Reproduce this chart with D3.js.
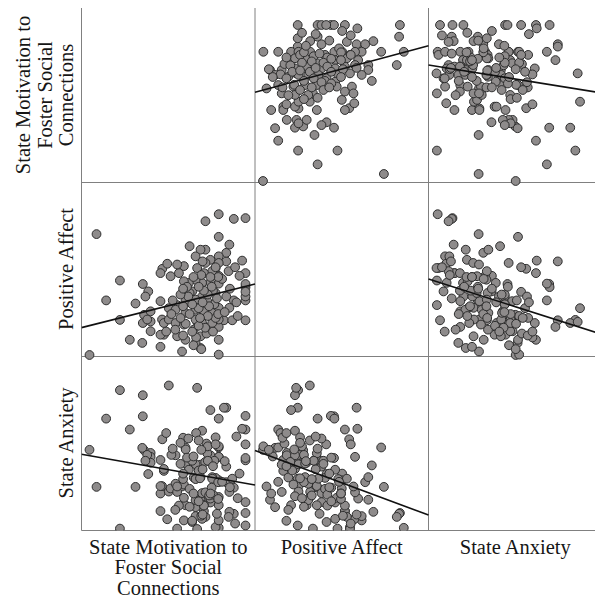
<!DOCTYPE html>
<html>
<head>
<meta charset="utf-8">
<script src="https://cdn.jsdelivr.net/npm/d3@7"></script>
<style>
  html, body { margin: 0; padding: 0; background: #fff; }
  svg { display: block; }
</style>
</head>
<body>
<svg id="chart" width="595" height="600"></svg>
<script>
// Variable names, one entry per row / column of the matrix
const labelLines = [
  ["State Motivation to", "Foster Social", "Connections"],
  ["Positive Affect"],
  ["State Anxiety"]
];

// One value per participant, same order in every array
const motivation = [
  1.00, 1.27, 5.97, 4.05, 2.17, 2.17, 1.64, 3.05, 3.05, 3.10, 3.03, 2.77, 2.55, 5.14, 6.26, 6.17, 5.65, 5.85, 4.37, 4.63,
  5.97, 7.00, 6.55, 5.46, 6.26, 5.46, 6.38, 4.85, 5.27, 5.97, 3.80, 7.00, 7.00, 7.00, 7.00, 7.00, 7.00, 7.00, 6.87, 6.77,
  6.55, 6.49, 6.38, 6.26, 5.97, 5.97, 5.97, 5.97, 5.97, 5.97, 5.97, 5.97, 4.56, 5.27, 3.73, 5.08, 3.35, 3.35, 3.35, 3.26,
  3.22, 3.15, 3.86, 3.73, 3.79, 3.73, 3.73, 3.86, 4.05, 3.99, 4.12, 5.85, 5.65, 5.72, 5.72, 5.53, 5.65, 5.72, 5.65, 5.27,
  5.33, 5.40, 5.33, 5.33, 5.40, 5.46, 5.01, 5.08, 5.08, 5.08, 4.95, 5.08, 5.14, 5.08, 4.69, 4.63, 4.69, 4.69, 4.85, 4.82,
  4.44, 4.37, 4.31, 4.31, 4.63, 4.37, 5.50, 5.45, 5.85, 5.95, 5.80, 5.90, 5.75, 6.10, 6.35, 5.10, 5.20, 5.55, 5.60, 5.55,
  5.70, 5.95, 5.85, 4.95, 5.25, 5.20, 5.35, 5.40, 5.65, 4.60, 4.70, 4.85, 4.95, 4.80, 5.20, 5.30, 5.35, 4.30, 4.50, 4.60,
  4.50, 4.75, 5.00, 3.95, 4.15, 4.20, 4.60, 5.00, 5.30, 6.20, 6.40, 6.60, 5.75, 6.65, 6.70
];
const positiveAffect = [
  1.00, 4.10, 4.61, 2.20, 1.90, 2.91, 2.40, 1.82, 2.82, 2.03, 1.31, 2.32, 1.39, 1.85, 3.40, 1.89, 1.72, 3.23, 2.28, 3.28,
  4.03, 4.51, 4.49, 4.43, 3.62, 3.70, 3.83, 3.79, 3.70, 3.53, 3.21, 3.10, 1.89, 2.40, 2.50, 2.74, 2.82, 2.62, 3.42, 3.03,
  2.40, 1.89, 2.21, 2.50, 1.01, 1.39, 1.72, 1.91, 2.21, 2.83, 3.03, 3.36, 1.09, 1.18, 1.21, 1.31, 1.61, 1.86, 2.12, 2.63,
  1.91, 2.50, 1.52, 1.52, 1.91, 2.38, 3.10, 1.82, 1.91, 3.34, 3.02, 2.59, 1.61, 1.82, 2.08, 2.38, 2.85, 3.15, 3.44, 1.48,
  1.82, 2.12, 2.50, 2.85, 3.10, 3.36, 1.65, 1.91, 2.16, 2.42, 2.63, 2.93, 3.23, 3.53, 1.39, 1.78, 2.08, 2.38, 2.59, 2.85,
  3.10, 1.48, 1.82, 2.16, 2.89, 3.32, 1.55, 1.70, 1.95, 2.05, 2.30, 2.45, 2.65, 2.95, 3.15, 1.45, 1.75, 2.00, 2.25, 2.55,
  2.75, 3.00, 3.25, 1.60, 1.95, 2.20, 2.35, 2.65, 3.00, 1.50, 1.80, 2.05, 2.30, 2.50, 2.75, 3.05, 3.40, 1.65, 1.95, 2.25,
  2.55, 2.75, 3.00, 1.60, 2.05, 2.40, 2.70, 1.25, 1.15, 2.10, 2.70, 3.25, 1.60, 2.35, 2.00
];
const anxiety = [
  3.03, 2.08, 1.03, 4.68, 4.56, 1.01, 3.83, 4.43, 3.89, 3.02, 3.08, 2.08, 3.55, 4.62, 4.11, 4.11, 4.05, 1.05, 1.01, 1.22,
  3.09, 1.41, 1.39, 1.31, 2.20, 1.75, 1.44, 2.63, 2.33, 1.22, 3.30, 3.55, 1.09, 2.76, 1.69, 3.90, 2.82, 3.17, 3.57, 2.42,
  2.06, 2.29, 1.95, 2.60, 3.12, 2.21, 1.61, 2.85, 1.82, 3.83, 2.25, 2.85, 2.09, 1.75, 1.91, 1.56, 2.95, 2.85, 2.70, 2.41,
  2.90, 2.75, 2.49, 2.77, 2.10, 2.10, 1.46, 2.54, 1.96, 1.25, 2.04, 2.31, 2.89, 1.84, 2.33, 2.94, 1.68, 2.29, 1.78, 2.65,
  3.52, 1.61, 1.92, 1.26, 1.46, 1.94, 2.32, 2.66, 1.74, 2.29, 1.18, 2.28, 1.00, 1.33, 3.09, 2.14, 2.68, 1.61, 2.03, 2.52,
  1.60, 1.95, 2.89, 2.16, 1.80, 2.09, 3.19, 2.72, 3.35, 2.20, 2.75, 1.39, 1.88, 2.21, 1.31, 3.46, 2.50, 3.12, 1.86, 2.75,
  2.06, 1.77, 3.17, 1.21, 2.30, 3.27, 2.53, 1.60, 1.91, 3.34, 3.04, 1.57, 2.75, 3.32, 1.71, 1.34, 1.37, 1.49, 3.21, 2.28,
  2.67, 2.83, 1.91, 3.46, 2.90, 3.06, 2.42, 2.86, 3.03, 2.74, 2.07, 1.14, 2.61, 3.37, 1.79
];

// Scale limits of each variable (matrix order)
const domains = [[1, 7], [1, 5], [1, 5]];

const series = [motivation, positiveAffect, anxiety];
const n = d3.min(series, s => s.length);
const rows = d3.range(n).map(i => series.map(s => s[i]));

const svg = d3.select("#chart");
const gridLeft = 81.5, gridTop = 8, cellW = 173.5, cellH = 174;
const k = labelLines.length;
const cellLeft = j => gridLeft + j * cellW;
const cellBottom = i => gridTop + (i + 1) * cellH;

const xScale = j => d3.scaleLinear().domain(domains[j]).range([cellLeft(j) + 8, cellLeft(j) + 164]);
const yScale = i => d3.scaleLinear().domain(domains[i]).range([cellBottom(i) - 1, cellBottom(i) - 157]);

const serif = "'Liberation Serif', 'Times New Roman', Times, serif";
const lineColor = "#808080";

// Grid frame: left edge, cell dividers and bottom edge (no top/right rule)
const frame = svg.append("g").attr("stroke", lineColor).attr("stroke-width", 1).attr("fill", "none");
for (let j = 0; j < k; j++) {
  frame.append("line").attr("x1", cellLeft(j)).attr("x2", cellLeft(j))
    .attr("y1", gridTop).attr("y2", cellBottom(k - 1) + 0.5);
}
for (let i = 0; i < k; i++) {
  frame.append("line").attr("x1", gridLeft).attr("x2", 600)
    .attr("y1", cellBottom(i) + 0.5).attr("y2", cellBottom(i) + 0.5);
}

svg.append("clipPath").attr("id", "plot-area")
  .append("rect").attr("x", gridLeft).attr("y", gridTop)
  .attr("width", 600 - gridLeft).attr("height", cellBottom(k - 1) - gridTop + 0.5);

const plot = svg.append("g").attr("clip-path", "url(#plot-area)");

// Least-squares fit of y on x
function fit(xs, ys) {
  const mx = d3.mean(xs), my = d3.mean(ys);
  let sxy = 0, sxx = 0;
  for (let t = 0; t < xs.length; t++) {
    sxy += (xs[t] - mx) * (ys[t] - my);
    sxx += (xs[t] - mx) * (xs[t] - mx);
  }
  const b = sxy / sxx;
  return { a: my - b * mx, b };
}

// Off-diagonal cells: scatter of row variable against column variable, with its fit line
for (let i = 0; i < k; i++) {
  for (let j = 0; j < k; j++) {
    if (i === j) continue;
    const x = xScale(j), y = yScale(i);
    const g = plot.append("g");
    g.selectAll("circle").data(rows).join("circle")
      .attr("cx", d => x(d[j]))
      .attr("cy", d => y(d[i]))
      .attr("r", 4.4)
      .attr("fill", "#8e8b8b")
      .attr("stroke", "#2e2e2e")
      .attr("stroke-width", 1);

    const m = fit(rows.map(d => d[j]), rows.map(d => d[i]));
    const x0 = x.invert(cellLeft(j)), x1 = x.invert(cellLeft(j) + cellW);
    g.append("line")
      .attr("x1", x(x0)).attr("y1", y(m.a + m.b * x0))
      .attr("x2", x(x1)).attr("y2", y(m.a + m.b * x1))
      .attr("stroke", "#111").attr("stroke-width", 1.6);
  }
}

// Column titles under the matrix
for (let j = 0; j < k; j++) {
  const t = svg.append("text")
    .attr("x", cellLeft(j) + cellW / 2)
    .attr("y", 553.5)
    .attr("text-anchor", "middle")
    .attr("font-family", serif).attr("font-size", 20.5).attr("fill", "#161616");
  labelLines[j].forEach((s, l) => t.append("tspan")
    .attr("x", cellLeft(j) + cellW / 2).attr("dy", l === 0 ? 0 : 20.5).text(s));
}

// Row titles, rotated, last line sitting next to the frame
for (let i = 0; i < k; i++) {
  const cy = gridTop + i * cellH + cellH / 2;
  const lines = labelLines[i];
  lines.forEach((s, l) => {
    const bx = 73 - (lines.length - 1 - l) * 21.5;
    svg.append("text")
      .attr("transform", `translate(${bx},${cy}) rotate(-90)`)
      .attr("text-anchor", "middle")
      .attr("font-family", serif).attr("font-size", 20.5).attr("fill", "#161616")
      .text(s);
  });
}
</script>
</body>
</html>
